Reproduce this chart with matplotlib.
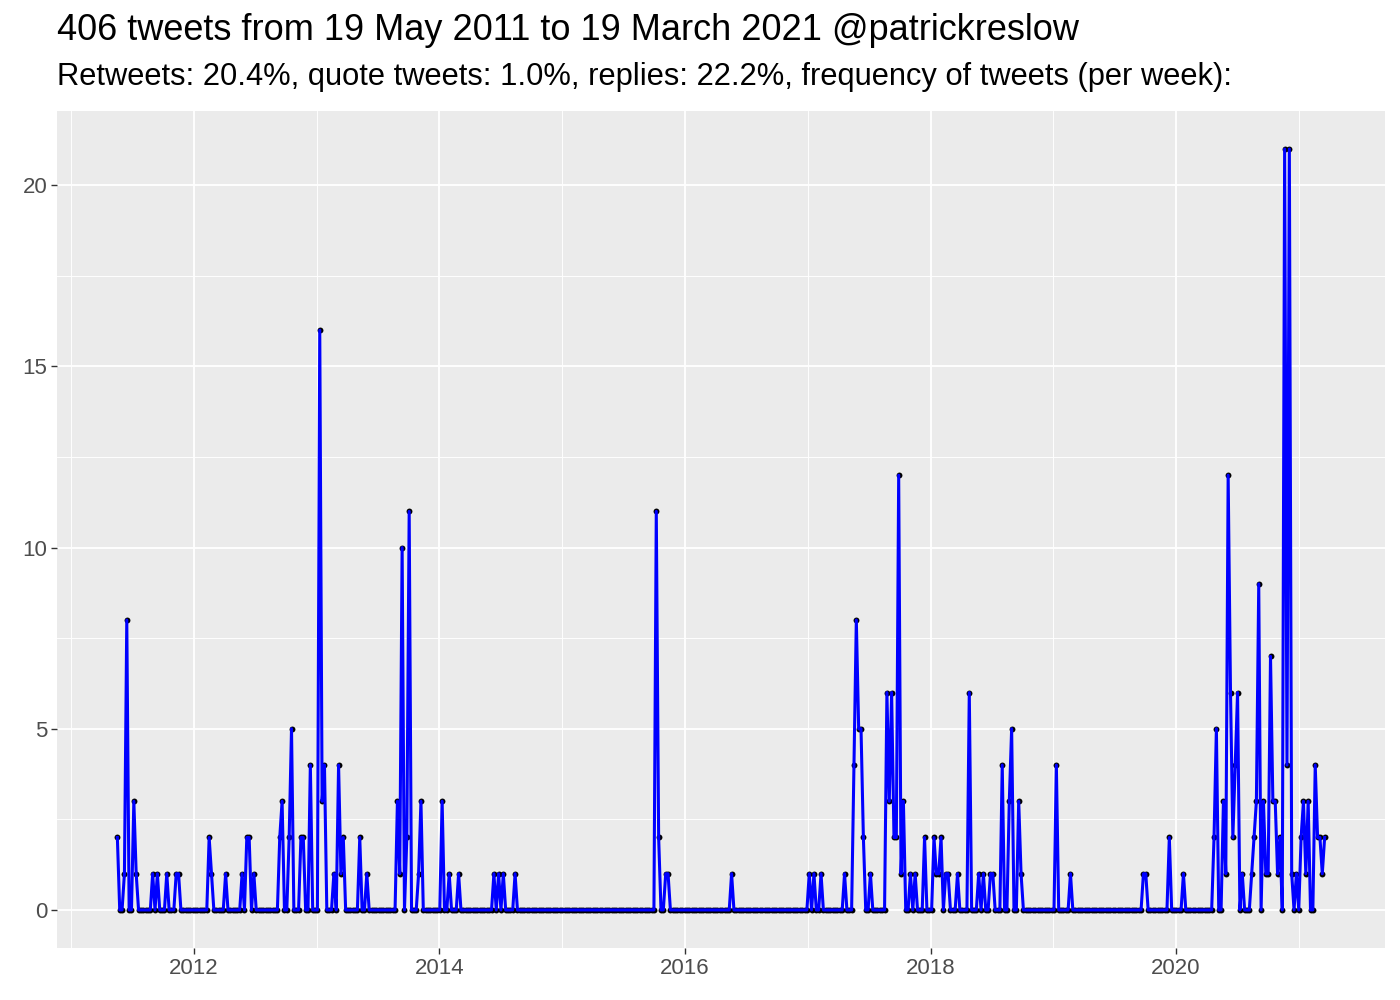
import matplotlib
matplotlib.use("Agg")
import matplotlib.pyplot as plt
import matplotlib.dates as mdates
import pandas as pd
import numpy as np

# ---------------- data ----------------
start_date = "2011-05-19"
n_weeks = 514
active_weeks = [0, 3, 4, 7, 8, 15, 17, 21, 25, 26, 39, 40, 46, 53, 55, 56, 58,
                69, 70, 73, 74, 78, 79, 82, 86, 87, 88, 92, 94, 95, 96, 103, 106,
                119, 120, 121, 123, 124, 128, 129, 138, 141, 145, 160, 162, 164, 169,
                229, 230, 233, 234, 261, 294, 296, 299, 309, 313, 314, 315, 316, 317, 320,
                327, 328, 329, 330, 331, 332, 333, 334, 337, 339, 343, 347, 348, 349, 350,
                352, 353, 357, 362, 366, 368, 371, 372, 376, 379, 380, 383, 384, 399, 405,
                436, 437, 447, 453, 466, 467, 470, 471, 472, 473, 474, 475, 476, 478,
                482, 483, 484, 485, 487, 488, 489, 490, 491, 492, 493, 494, 496, 497, 498,
                499, 501, 503, 504, 505, 506, 509, 510, 511, 512, 513]
tweet_counts = [2, 1, 8, 3, 1, 1, 1, 1, 1, 1, 2, 1, 1, 1, 2, 2, 1,
                2, 3, 2, 5, 2, 2, 4, 16, 3, 4, 1, 4, 1, 2, 2, 1,
                3, 1, 10, 2, 11, 1, 3, 3, 1, 1, 1, 1, 1, 1,
                11, 2, 1, 1, 1, 1, 1, 1, 1, 4, 8, 5, 5, 2, 1,
                6, 3, 6, 2, 2, 12, 1, 3, 1, 1, 2, 2, 1, 1, 2,
                1, 1, 1, 6, 1, 1, 1, 1, 4, 3, 5, 3, 1, 4, 1,
                1, 1, 2, 1, 2, 5, 3, 1, 12, 6, 2, 4, 6, 1,
                1, 2, 3, 9, 3, 1, 1, 7, 3, 3, 1, 2, 21, 4, 21,
                1, 1, 2, 3, 1, 3, 4, 2, 2, 1, 2]
title = "406 tweets from 19 May 2011 to 19 March 2021 @patrickreslow"
subtitle = "Retweets: 20.4%, quote tweets: 1.0%, replies: 22.2%, frequency of tweets (per week):"
major_years = [2012, 2014, 2016, 2018, 2020]
minor_years = [2011, 2013, 2015, 2017, 2019, 2021]
y_major = [0, 5, 10, 15, 20]
y_minor = [2.5, 7.5, 12.5, 17.5]

# ---------------- build series ----------------
weeks = pd.date_range(start_date, periods=n_weeks, freq="7D")
counts = np.zeros(n_weeks)
counts[active_weeks] = tweet_counts

plt.rcParams["font.family"] = ["Liberation Sans", "DejaVu Sans"]

fig = plt.figure(figsize=(14, 10), dpi=100)
ax = fig.add_axes([57 / 1400, 1 - 948 / 1000, (1385 - 57) / 1400, (948 - 111) / 1000])
ax.set_facecolor("#EBEBEB")
for s in ax.spines.values():
    s.set_visible(False)

ax.scatter(weeks, counts, s=18, color="black", zorder=3, linewidths=0)
ax.plot(weeks, counts, color="blue", lw=2.2, zorder=4)

# limits with ggplot-like 5% expansion
x0 = mdates.date2num(weeks[0])
x1 = mdates.date2num(weeks[-1])
dx = (x1 - x0) * 0.05
ax.set_xlim(x0 - dx, x1 + dx)
ymax = counts.max()
ax.set_ylim(-0.05 * ymax, ymax * 1.05)

ax.set_xticks([mdates.date2num(pd.Timestamp(f"{y}-01-01")) for y in major_years])
ax.set_xticklabels([str(y) for y in major_years])
ax.set_xticks([mdates.date2num(pd.Timestamp(f"{y}-01-01")) for y in minor_years], minor=True)
ax.set_yticks(y_major)
ax.set_yticks(y_minor, minor=True)

ax.grid(which="major", color="white", lw=1.3, zorder=0)
ax.grid(which="minor", color="white", lw=0.65, zorder=0)
ax.set_axisbelow(True)
ax.tick_params(which="major", length=4, width=1.0, color="#333333",
               labelcolor="#4D4D4D", labelsize=16, pad=3)
ax.tick_params(which="minor", length=0)

fig.text(57 / 1400, 1 - 31 / 1000, title, fontsize=26, va="center", ha="left", color="black")
fig.text(57 / 1400, 1 - 77 / 1000, subtitle, fontsize=22.2, va="center", ha="left", color="black")

fig.savefig("out.png", dpi=100)
